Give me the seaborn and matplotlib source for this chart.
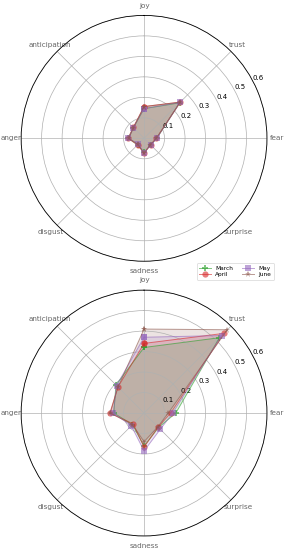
"""
Radar charts of emotion shares per month (two panels).
"""
import numpy as np
import pandas as pd
import seaborn as sns
import matplotlib
matplotlib.use("Agg")
import matplotlib.pyplot as plt

# ─── Data ────────────────────────────────────────────────────────────────────
emotions = ["joy", "trust", "fear", "surprise", "sadness", "disgust", "anger", "anticipation"]
months   = ["March", "April", "May", "June"]

top_march = [0.145, 0.245, 0.062, 0.046, 0.068, 0.045, 0.077, 0.074]
top_april = [0.155, 0.250, 0.060, 0.045, 0.072, 0.045, 0.078, 0.075]
top_may   = [0.145, 0.248, 0.062, 0.046, 0.070, 0.040, 0.076, 0.074]
top_june  = [0.155, 0.250, 0.060, 0.044, 0.074, 0.042, 0.075, 0.073]

bot_march = [0.320, 0.520, 0.155, 0.100, 0.162, 0.080, 0.148, 0.194]
bot_april = [0.340, 0.550, 0.130, 0.097, 0.166, 0.075, 0.167, 0.180]
bot_may   = [0.370, 0.535, 0.140, 0.112, 0.185, 0.088, 0.150, 0.190]
bot_june  = [0.410, 0.575, 0.118, 0.095, 0.140, 0.080, 0.165, 0.180]

r_ticks = [0.1, 0.2, 0.3, 0.4, 0.5, 0.6]

# ─── Style ───────────────────────────────────────────────────────────────────
_pal     = sns.color_palette("tab10")
_COLORS  = dict(zip(months, [_pal[2], _pal[3], _pal[4], _pal[5]]))
_MARKERS = dict(zip(months, ["P", "o", "s", "*"]))

angles = np.linspace(0, 2 * np.pi, len(emotions), endpoint=False)


def to_long(series):
    rows = []
    for m, vals in zip(months, series):
        th = list(angles) + [2 * np.pi]
        rr = list(vals) + [vals[0]]
        for t, r in zip(th, rr):
            rows.append({"theta": t, "r": r, "month": m})
    return pd.DataFrame(rows)


def radar(ax, series):
    # fills first, last month underneath
    for m, vals in reversed(list(zip(months, series))):
        ax.fill(angles, vals, color=_COLORS[m], alpha=0.16, linewidth=0)

    df = to_long(series)
    sns.lineplot(
        data=df, x="theta", y="r", hue="month", style="month",
        palette=_COLORS, markers=_MARKERS, dashes=False,
        sort=False, estimator=None, alpha=0.6, linewidth=1.4,
        markersize=9, markeredgewidth=0, ax=ax, legend=True,
    )

    ax.set_theta_offset(np.pi / 2)
    ax.set_theta_direction(-1)
    ax.set_xticks(angles)
    ax.set_xticklabels(emotions, fontsize=10.5, color="#666666")
    ax.set_ylim(0, 0.6)
    ax.set_yticks(r_ticks)
    ax.set_yticklabels([f"{t:.1f}" for t in r_ticks], fontsize=10)
    ax.set_rlabel_position(62)
    ax.set_xlabel("")
    ax.set_ylabel("")
    ax.grid(True, color="#b0b0b0", linewidth=1)
    ax.spines["polar"].set_color("black")
    ax.spines["polar"].set_linewidth(1.2)


fig = plt.figure(figsize=(5.78, 11), dpi=50)
ax_top = fig.add_axes([0.073, 0.525, 0.851, 0.447], projection="polar")
ax_bot = fig.add_axes([0.073, 0.0255, 0.851, 0.447], projection="polar")

radar(ax_top, [top_march, top_april, top_may, top_june])
radar(ax_bot, [bot_march, bot_april, bot_may, bot_june])

handles, labels = ax_top.get_legend_handles_labels()
ax_top.get_legend().remove()
ax_bot.get_legend().remove()
fig.legend(
    handles, labels, ncol=2, fontsize=8.5, loc="upper right",
    bbox_to_anchor=(0.958, 0.527), framealpha=0.8,
    handlelength=2, columnspacing=1.5, borderpad=0.4, labelspacing=0.3,
)

fig.savefig("out.png", dpi=50)
